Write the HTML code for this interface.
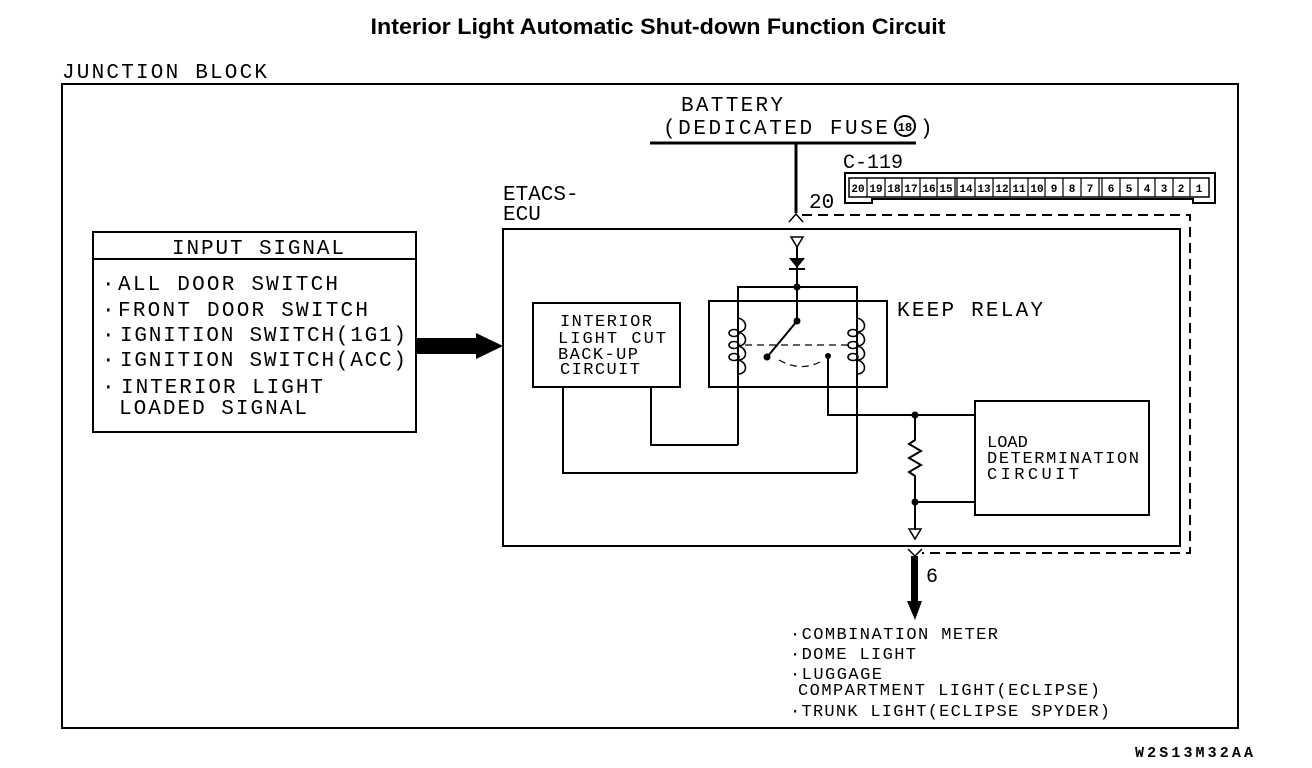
<!DOCTYPE html>
<html><head><meta charset="utf-8"><style>
html,body{margin:0;padding:0;background:#fff;}
svg{display:block;}
text{font-family:"Liberation Mono",monospace;fill:#000;}
</style></head><body>
<svg width="1312" height="768" viewBox="0 0 1312 768" xmlns="http://www.w3.org/2000/svg">
<text x="658" y="34" text-anchor="middle" style="font-family:'Liberation Sans',sans-serif;font-weight:bold;font-size:22px" textLength="575" lengthAdjust="spacingAndGlyphs">Interior Light Automatic Shut-down Function Circuit</text>
<text x="62" y="78" font-size="21" textLength="205">JUNCTION BLOCK</text>
<rect x="62" y="84" width="1176" height="644" fill="none" stroke="#000" stroke-width="2"/>
<!-- battery -->
<text x="681" y="111" font-size="21" textLength="102">BATTERY</text>
<text x="663" y="134" font-size="21" textLength="225">(DEDICATED FUSE</text>
<circle cx="905" cy="126" r="10" fill="none" stroke="#000" stroke-width="2"/>
<text x="905" y="131" font-size="12" text-anchor="middle" font-weight="bold">18</text>
<text x="920" y="134" font-size="21">)</text>
<line x1="650" y1="143" x2="916" y2="143" stroke="#000" stroke-width="3"/>
<line x1="796" y1="143" x2="796" y2="213" stroke="#000" stroke-width="3"/>
<polyline points="789,222 796,214 803,222" fill="none" stroke="#000" stroke-width="1.5"/>
<text x="809" y="208" font-size="21">20</text>
<text x="843" y="168" font-size="20" textLength="60">C-119</text>
<!-- connector -->
<path d="M845,203 V173 H1215 V203 H1193 V199 H872 V203 Z" fill="none" stroke="#000" stroke-width="2"/>
<g stroke="#000" stroke-width="1.5" fill="none">
<rect x="849" y="178" width="360" height="19"/>
</g>
<g font-size="11" text-anchor="middle" font-weight="bold">
<text x="858" y="192">20</text><text x="876" y="192">19</text><text x="894" y="192">18</text><text x="911" y="192">17</text><text x="929" y="192">16</text><text x="946" y="192">15</text>
<text x="966" y="192">14</text><text x="984" y="192">13</text><text x="1002" y="192">12</text><text x="1019" y="192">11</text><text x="1037" y="192">10</text><text x="1054" y="192">9</text><text x="1072" y="192">8</text><text x="1090" y="192">7</text>
<text x="1111" y="192">6</text><text x="1129" y="192">5</text><text x="1147" y="192">4</text><text x="1164" y="192">3</text><text x="1181" y="192">2</text><text x="1199" y="192">1</text>
</g>
<g stroke="#000" stroke-width="1.2">
<line x1="867" y1="178" x2="867" y2="197"/><line x1="885" y1="178" x2="885" y2="197"/><line x1="902" y1="178" x2="902" y2="197"/><line x1="920" y1="178" x2="920" y2="197"/><line x1="937" y1="178" x2="937" y2="197"/><line x1="955" y1="178" x2="955" y2="197"/><line x1="957" y1="178" x2="957" y2="197"/>
<line x1="975" y1="178" x2="975" y2="197"/><line x1="993" y1="178" x2="993" y2="197"/><line x1="1010" y1="178" x2="1010" y2="197"/><line x1="1028" y1="178" x2="1028" y2="197"/><line x1="1045" y1="178" x2="1045" y2="197"/><line x1="1063" y1="178" x2="1063" y2="197"/><line x1="1081" y1="178" x2="1081" y2="197"/><line x1="1099" y1="178" x2="1099" y2="197"/><line x1="1102" y1="178" x2="1102" y2="197"/>
<line x1="1120" y1="178" x2="1120" y2="197"/><line x1="1138" y1="178" x2="1138" y2="197"/><line x1="1155" y1="178" x2="1155" y2="197"/><line x1="1173" y1="178" x2="1173" y2="197"/><line x1="1190" y1="178" x2="1190" y2="197"/>
</g>
<!-- dashed -->
<polyline points="802,215 1190,215 1190,553 922,553" fill="none" stroke="#000" stroke-width="2" stroke-dasharray="10,6"/>
<!-- ECU -->
<text x="503" y="200" font-size="21">ETACS-</text>
<text x="503" y="220" font-size="21">ECU</text>
<rect x="503" y="229" width="677" height="317" fill="none" stroke="#000" stroke-width="2"/>
<polygon points="791,237 803,237 797,247" fill="none" stroke="#000" stroke-width="1.5"/>
<line x1="797" y1="247" x2="797" y2="320" stroke="#000" stroke-width="2"/>
<polygon points="789,258 805,258 797,268" fill="#000"/>
<line x1="789" y1="269" x2="805" y2="269" stroke="#000" stroke-width="2"/>
<circle cx="797" cy="287" r="3.5" fill="#000"/>
<polyline points="738,445 738,287 857,287 857,473" fill="none" stroke="#000" stroke-width="2"/>
<rect x="709" y="301" width="178" height="86" fill="none" stroke="#000" stroke-width="2"/>
<text x="897" y="316" font-size="21" textLength="146">KEEP RELAY</text>
<!-- coils -->
<g fill="none" stroke="#000" stroke-width="1.6">
<path d="M738,318 c10,2 10,14 0,14 c10,2 10,14 0,14 c10,2 10,14 0,14 c10,2 10,14 0,14"/>
<ellipse cx="734" cy="333" rx="5" ry="3.5"/><ellipse cx="734" cy="345" rx="5" ry="3.5"/><ellipse cx="734" cy="357" rx="5" ry="3.5"/>
<path d="M857,318 c10,2 10,14 0,14 c10,2 10,14 0,14 c10,2 10,14 0,14 c10,2 10,14 0,14"/>
<ellipse cx="853" cy="333" rx="5" ry="3.5"/><ellipse cx="853" cy="345" rx="5" ry="3.5"/><ellipse cx="853" cy="357" rx="5" ry="3.5"/>
</g>
<line x1="745" y1="345" x2="850" y2="345" stroke="#000" stroke-width="1.2" stroke-dasharray="7,5"/>
<path d="M779,360 Q800,372 820,362" fill="none" stroke="#000" stroke-width="1.2" stroke-dasharray="7,5"/>
<circle cx="797" cy="321" r="3.5" fill="#000"/>
<line x1="797" y1="321" x2="768" y2="356" stroke="#000" stroke-width="2"/>
<circle cx="767" cy="357" r="3.5" fill="#000"/>
<circle cx="828" cy="356" r="3" fill="#000"/>
<polyline points="828,356 828,415 975,415" fill="none" stroke="#000" stroke-width="2"/>
<!-- interior box -->
<rect x="533" y="303" width="147" height="84" fill="none" stroke="#000" stroke-width="2"/>
<g font-size="17">
<text x="560" y="326" textLength="92">INTERIOR</text>
<text x="558" y="343" textLength="108">LIGHT CUT</text>
<text x="558" y="359" textLength="80">BACK-UP</text>
<text x="560" y="374" textLength="80">CIRCUIT</text>
</g>
<polyline points="651,387 651,445 738,445" fill="none" stroke="#000" stroke-width="2"/>
<polyline points="563,387 563,473 857,473" fill="none" stroke="#000" stroke-width="2"/>
<!-- resistor -->
<circle cx="915" cy="415" r="3.5" fill="#000"/>
<polyline points="915,415 915,440 909,444 921,451 909,458 921,465 909,472 915,476 915,530" fill="none" stroke="#000" stroke-width="2"/>
<circle cx="915" cy="502" r="3.5" fill="#000"/>
<line x1="915" y1="502" x2="975" y2="502" stroke="#000" stroke-width="2"/>
<polygon points="909,529 921,529 915,539" fill="none" stroke="#000" stroke-width="1.5"/>
<rect x="975" y="401" width="174" height="114" fill="none" stroke="#000" stroke-width="2"/>
<g font-size="17">
<text x="987" y="447">LOAD</text>
<text x="987" y="463" textLength="152">DETERMINATION</text>
<text x="987" y="479" textLength="92">CIRCUIT</text>
</g>
<!-- input -->
<rect x="93" y="232" width="323" height="200" fill="none" stroke="#000" stroke-width="2"/>
<line x1="93" y1="259" x2="416" y2="259" stroke="#000" stroke-width="2"/>
<text x="172" y="254" font-size="21" textLength="172">INPUT SIGNAL</text>
<g font-size="21">
<text x="102" y="290">·</text><text x="118" y="290" textLength="220">ALL DOOR SWITCH</text>
<text x="102" y="316">·</text><text x="118" y="316" textLength="250">FRONT DOOR SWITCH</text>
<text x="102" y="341">·</text><text x="120" y="341" textLength="286">IGNITION SWITCH(1G1)</text>
<text x="102" y="366">·</text><text x="120" y="366" textLength="286">IGNITION SWITCH(ACC)</text>
<text x="102" y="393">·</text><text x="121" y="393" textLength="202">INTERIOR LIGHT</text>
<text x="119" y="414" textLength="188">LOADED SIGNAL</text>
</g>
<polygon points="417,338 476,338 476,333 503,346 476,359 476,354 417,354" fill="#000"/>
<!-- output -->
<polyline points="908,549 915,556 922,549" fill="none" stroke="#000" stroke-width="1.5"/>
<rect x="911" y="556" width="7" height="46" fill="#000"/>
<polygon points="907,601 922,601 915,620" fill="#000"/>
<text x="926" y="582" font-size="20">6</text>
<g font-size="17">
<text x="790" y="639" textLength="208">·COMBINATION METER</text>
<text x="790" y="659" textLength="126">·DOME LIGHT</text>
<text x="790" y="679" textLength="92">·LUGGAGE</text>
<text x="798" y="695" textLength="302">COMPARTMENT LIGHT(ECLIPSE)</text>
<text x="790" y="716" textLength="320">·TRUNK LIGHT(ECLIPSE SPYDER)</text>
</g>
<text x="1135" y="757" font-size="15" font-weight="bold" textLength="118">W2S13M32AA</text>
</svg>
</body></html>
